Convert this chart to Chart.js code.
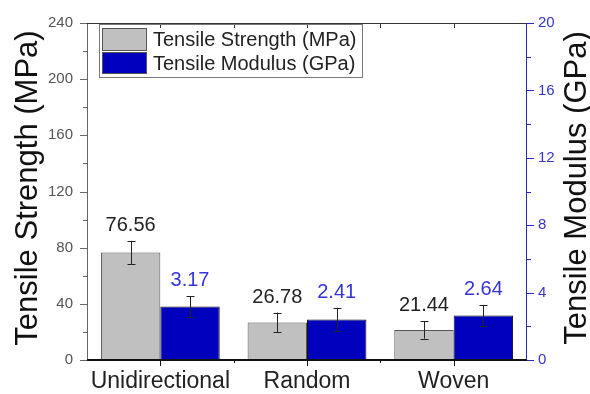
<!DOCTYPE html>
<html>
<head>
<meta charset="utf-8">
<script src="https://cdn.jsdelivr.net/npm/chart.js@4.4.1/dist/chart.umd.min.js"></script>
<style>
  html, body { margin: 0; padding: 0; background: #fff; }
  #wrap { width: 590px; height: 394px; }
</style>
</head>
<body>
<div id="wrap"><canvas id="myChart" width="590" height="394"></canvas></div>
<script>
"use strict"
// Daten
const categories = ["Unidirectional", "Random", "Woven"];
const strength = [76.56, 26.78, 21.44];      // MPa
const strengthErr = [8.3, 7.0, 6.2];
const modulus = [3.17, 2.41, 2.64];          // GPa
const modulusErr = [0.63, 0.69, 0.63];
const strengthTicks = [0, 40, 80, 120, 160, 200, 240];
const modulusTicks = [0, 4, 8, 12, 16, 20];

const FONT = "'Liberation Sans', Arial, sans-serif";
const BLUE_AXIS = '#2a2ac0';

// Rahmen, kleine Ticks, Fehlerbalken, Werte, Legende, Achsentitel
const extras = {
    id: 'extras',
    afterDatasetsDraw(chart) {
        const ctx = chart.ctx;
        const errs = [strengthErr, modulusErr];
        ctx.save();
        chart.data.datasets.forEach((ds, di) => {
            const meta = chart.getDatasetMeta(di);
            const scale = chart.scales[ds.yAxisID];
            meta.data.forEach((bar, i) => {
                const v = ds.data[i];
                const yTop = scale.getPixelForValue(v + errs[di][i]);
                const yBot = scale.getPixelForValue(v - errs[di][i]);
                const x = Math.round(bar.x) + 0.5;
                ctx.strokeStyle = '#222';
                ctx.lineWidth = 1;
                ctx.beginPath();
                ctx.moveTo(x, yTop); ctx.lineTo(x, yBot);
                ctx.moveTo(x - 4, Math.round(yTop) + 0.5); ctx.lineTo(x + 4, Math.round(yTop) + 0.5);
                ctx.moveTo(x - 4, Math.round(yBot) + 0.5); ctx.lineTo(x + 4, Math.round(yBot) + 0.5);
                ctx.stroke();
                // Wert über dem Balken
                ctx.font = '20px ' + FONT;
                ctx.fillStyle = di === 0 ? '#222' : '#3434dc';
                ctx.textAlign = 'center';
                ctx.textBaseline = 'alphabetic';
                ctx.fillText(v.toFixed(2), bar.x, yTop - 10);
            });
        });
        ctx.restore();
    },
    afterDraw(chart) {
        const ctx = chart.ctx;
        const a = chart.chartArea;
        const y = chart.scales.y, y2 = chart.scales.y2;
        ctx.save();
        ctx.lineWidth = 1;
        // linke Achse + Ticks
        ctx.strokeStyle = '#666';
        ctx.beginPath();
        ctx.moveTo(a.left + 0.5, a.top); ctx.lineTo(a.left + 0.5, a.bottom);
        for (let v = 0; v <= 240; v += 20) {
            const py = Math.round(y.getPixelForValue(v)) + 0.5;
            const len = v % 40 === 0 ? 7 : 4;
            ctx.moveTo(a.left - len, py); ctx.lineTo(a.left, py);
        }
        ctx.stroke();
        // obere Linie
        ctx.strokeStyle = '#333';
        ctx.beginPath();
        ctx.moveTo(a.left, a.top + 0.5); ctx.lineTo(a.right, a.top + 0.5);
        const step = (a.right - a.left) / 6;
        for (let k = 1; k < 6; k++) {
            const px = Math.round(a.left + k * step) + 0.5;
            ctx.moveTo(px, a.top); ctx.lineTo(px, a.top + 5);
        }
        ctx.stroke();
        // rechte Achse (blau)
        ctx.strokeStyle = BLUE_AXIS;
        ctx.beginPath();
        ctx.moveTo(a.right - 0.5, a.top); ctx.lineTo(a.right - 0.5, a.bottom);
        for (let v = 0; v <= 20; v += 2) {
            const py = Math.round(y2.getPixelForValue(v)) + 0.5;
            const len = v % 4 === 0 ? 7 : 4;
            ctx.moveTo(a.right, py); ctx.lineTo(a.right + len, py);
        }
        ctx.stroke();
        // untere Achse
        ctx.strokeStyle = '#111';
        ctx.lineWidth = 2;
        ctx.beginPath();
        ctx.moveTo(a.left, a.bottom); ctx.lineTo(a.right, a.bottom);
        ctx.stroke();
        ctx.lineWidth = 1;
        ctx.beginPath();
        for (let k = 1; k < 6; k++) {
            const px = Math.round(a.left + k * step) + 0.5;
            const len = k % 2 === 1 ? 6 : 3;
            ctx.moveTo(px, a.bottom); ctx.lineTo(px, a.bottom + len);
        }
        ctx.stroke();

        // Legende
        ctx.strokeStyle = '#777';
        ctx.strokeRect(99.5, 24.5, 263, 53);
        const ds = chart.data.datasets;
        const rows = [[28, 23], [52, 22]];
        ds.forEach((d, i) => {
            ctx.fillStyle = d.backgroundColor;
            ctx.fillRect(102, rows[i][0], 45, rows[i][1]);
            ctx.strokeStyle = '#555';
            ctx.strokeRect(102.5, rows[i][0] + 0.5, 44, rows[i][1] - 1);
            ctx.fillStyle = '#222';
            ctx.font = '20px ' + FONT;
            ctx.textAlign = 'left';
            ctx.textBaseline = 'middle';
            ctx.fillText(d.label, 153, rows[i][0] + rows[i][1] / 2 + 1);
        });

        // Achsentitel
        ctx.font = '31px ' + FONT;
        ctx.fillStyle = '#111';
        ctx.textAlign = 'center';
        ctx.textBaseline = 'middle';
        ctx.save();
        ctx.translate(28, 188);
        ctx.rotate(-Math.PI / 2);
        ctx.fillText('Tensile Strength (MPa)', 0, 0);
        ctx.restore();
        ctx.save();
        ctx.translate(577, 188);
        ctx.rotate(-Math.PI / 2);
        ctx.fillText('Tensile Modulus (GPa)', 0, 0);
        ctx.restore();
        ctx.restore();
    }
};

const config = {
    type: 'bar',
    data: {
        labels: categories,
        datasets: [{
            label: 'Tensile Strength (MPa)',
            data: strength,
            yAxisID: 'y',
            backgroundColor: '#c0c0c0',
            borderColor: '#555',
            borderWidth: 1,
            borderSkipped: 'bottom'
        }, {
            label: 'Tensile Modulus (GPa)',
            data: modulus,
            yAxisID: 'y2',
            backgroundColor: '#0000bd',
            borderColor: '#111',
            borderWidth: 1,
            borderSkipped: 'bottom'
        }]
    },
    options: {
        responsive: false,
        animation: false,
        categoryPercentage: 0.81,
        barPercentage: 1.0,
        layout: { padding: { top: 14, left: 0, right: 0, bottom: 0 } },
        plugins: { legend: { display: false }, tooltip: { enabled: false } },
        scales: {
            x: {
                offset: true,
                grid: { display: false, drawTicks: false, tickLength: 0 },
                border: { display: false },
                ticks: { font: { family: FONT, size: 23 }, color: '#222', padding: 8 },
                afterFit: (s) => { s.height = 34; }
            },
            y: {
                position: 'left',
                min: 0, max: 240,
                afterBuildTicks: (s) => { s.ticks = strengthTicks.map(v => ({ value: v })); },
                grid: { display: false, drawTicks: false, tickLength: 0 },
                border: { display: false },
                ticks: { font: { family: FONT, size: 15 }, color: '#555', padding: 14 },
                afterFit: (s) => { s.width = 87; }
            },
            y2: {
                position: 'right',
                min: 0, max: 20,
                afterBuildTicks: (s) => { s.ticks = modulusTicks.map(v => ({ value: v })); },
                grid: { display: false, drawTicks: false, tickLength: 0 },
                border: { display: false },
                ticks: { font: { family: FONT, size: 15 }, color: '#3434c8', padding: 11 },
                afterFit: (s) => { s.width = 63; }
            }
        }
    },
    plugins: [extras]
};

new Chart(document.getElementById('myChart'), config);
</script>
</body>
</html>
